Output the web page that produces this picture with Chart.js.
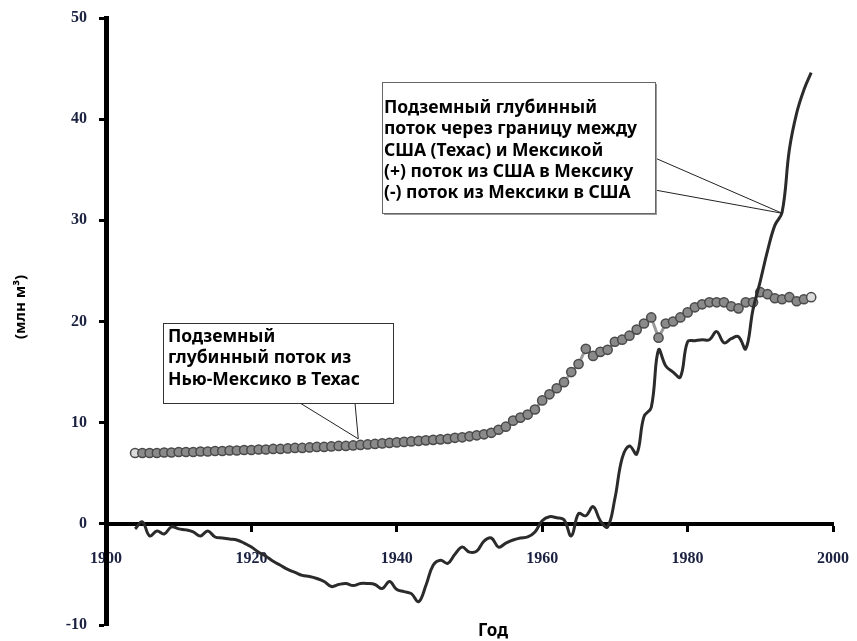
<!DOCTYPE html>
<html>
<head>
<meta charset="utf-8">
<script src="https://cdn.jsdelivr.net/npm/chart.js@4.4.0/dist/chart.umd.min.js"></script>
<style>
  html, body { margin: 0; padding: 0; background: #fff; }
</style>
</head>
<body>
<canvas id="flowChart" width="857" height="641"></canvas>
<script>
// ===== DATA =====
const years = [1904, 1905, 1906, 1907, 1908, 1909, 1910, 1911, 1912, 1913, 1914, 1915, 1916, 1917, 1918, 1919,
  1920, 1921, 1922, 1923, 1924, 1925, 1926, 1927, 1928, 1929, 1930, 1931, 1932, 1933, 1934, 1935, 1936, 1937, 1938, 1939,
  1940, 1941, 1942, 1943, 1944, 1945, 1946, 1947, 1948, 1949, 1950, 1951, 1952, 1953, 1954, 1955, 1956, 1957, 1958, 1959,
  1960, 1961, 1962, 1963, 1964, 1965, 1966, 1967, 1968, 1969, 1970, 1971, 1972, 1973, 1974, 1975, 1976, 1977, 1978, 1979,
  1980, 1981, 1982, 1983, 1984, 1985, 1986, 1987, 1988, 1989, 1990, 1991, 1992, 1993, 1994, 1995, 1996, 1997];

// Подземный глубинный поток из Нью-Мексико в Техас
const nmToTexas = [7.0, 7.0, 7.0, 7.0, 7.05, 7.05, 7.1, 7.1, 7.1, 7.15, 7.15, 7.2, 7.2, 7.25, 7.25, 7.3,
  7.3, 7.35, 7.35, 7.4, 7.4, 7.45, 7.5, 7.5, 7.55, 7.6, 7.6, 7.65, 7.7, 7.7, 7.75, 7.8, 7.85, 7.9, 7.95, 8.0,
  8.05, 8.1, 8.15, 8.2, 8.25, 8.3, 8.35, 8.4, 8.5, 8.55, 8.65, 8.75, 8.85, 9.0, 9.3, 9.6, 10.2, 10.5, 10.8, 11.3,
  12.2, 12.8, 13.4, 14.0, 15.0, 15.8, 17.3, 16.6, 17.0, 17.2, 18.0, 18.2, 18.6, 19.2, 19.8, 20.4, 18.4, 19.8, 20.0, 20.4,
  20.9, 21.4, 21.7, 21.9, 21.9, 21.9, 21.5, 21.3, 21.9, 21.9, 22.9, 22.7, 22.3, 22.2, 22.4, 22.0, 22.2, 22.4];

// Подземный глубинный поток через границу США (Техас) – Мексика
const borderFlow = [-0.5, 0.2, -1.2, -0.7, -1.0, -0.3, -0.5, -0.6, -0.8, -1.2, -0.7, -1.3, -1.4, -1.5, -1.6, -1.9,
  -2.3, -2.8, -3.2, -3.7, -4.1, -4.5, -4.8, -5.1, -5.2, -5.4, -5.7, -6.2, -6.0, -5.9, -6.1, -5.9, -5.9, -6.0, -6.4, -5.7,
  -6.5, -6.7, -6.9, -7.7, -6.1, -4.1, -3.6, -3.9, -3.0, -2.3, -2.8, -2.7, -1.7, -1.4, -2.3, -1.9, -1.6, -1.4, -1.3, -0.8,
  0.3, 0.7, 0.6, 0.4, -1.2, 1.0, 0.8, 1.7, 0.3, -0.3, 2.5, 6.5, 7.7, 6.9, 10.6, 11.5, 17.2, 15.6, 15.0, 14.5,
  18.0, 18.1, 18.2, 18.2, 19.0, 17.9, 18.3, 18.5, 17.3, 21.2, 24.0, 27.0, 29.5, 30.8, 37.0, 40.6, 42.9, 44.6];

const xTicks = [1900, 1920, 1940, 1960, 1980, 2000];
const yTicks = [-10, 0, 10, 20, 30, 40, 50];

const callouts = [
  {
    lines: ['Подземный', 'глубинный поток из', 'Нью-Мексико в Техас'],
    box: { x: 163, y: 323, w: 230, h: 80 }, textX: 168, textY: 337,
    anchor: [1934.7, 8.4], legs: [[300, 403], [355, 403]], shadow: false
  },
  {
    lines: ['Подземный глубинный', 'поток через границу между', 'США (Техас) и Мексикой',
            '(+) поток из США в Мексику', '(-) поток из Мексики в США'],
    box: { x: 382, y: 82, w: 273, h: 131 }, textX: 384, textY: 108,
    anchor: [1993.0, 30.7], legs: [[655, 158], [655, 190]], shadow: true
  }
];

const tickColor = '#1b2140';
const tickFont = { family: '"Liberation Serif", "Times New Roman", serif', size: 16, weight: 'bold' };
const noteFont = 'bold 17.5px "Noto Sans", "Open Sans", sans-serif';

// ===== ANNOTATIONS + AXIS TITLES =====
const notesPlugin = {
  id: 'notes',
  afterDraw(chart) {
    const { ctx, scales: { x, y } } = chart;
    ctx.save();
    callouts.forEach(c => {
      const tx = x.getPixelForValue(c.anchor[0]);
      const ty = y.getPixelForValue(c.anchor[1]);
      ctx.strokeStyle = '#222';
      ctx.lineWidth = 1;
      c.legs.forEach(([lx, ly]) => {
        ctx.beginPath(); ctx.moveTo(lx, ly); ctx.lineTo(tx, ty); ctx.stroke();
      });
      const b = c.box;
      if (c.shadow) {
        ctx.fillStyle = '#9a9a9a';
        ctx.fillRect(b.x + 2, b.y + 2, b.w, b.h);
      }
      ctx.fillStyle = '#fff';
      ctx.fillRect(b.x, b.y, b.w, b.h);
      ctx.strokeStyle = c.shadow ? '#666' : '#333';
      ctx.strokeRect(b.x + 0.5, b.y + 0.5, b.w, b.h);
      ctx.fillStyle = '#000';
      ctx.font = noteFont;
      ctx.textBaseline = 'middle';
      ctx.textAlign = 'left';
      c.lines.forEach((t, i) => ctx.fillText(t, c.textX, c.textY + i * 21.3));
    });

    // axis titles
    ctx.fillStyle = '#000';
    ctx.textAlign = 'center';
    ctx.textBaseline = 'middle';
    ctx.font = 'bold 17px "Noto Sans", "Open Sans", sans-serif';
    ctx.fillText('Год', 493, 631);
    ctx.font = 'bold 15px "Noto Sans", "Open Sans", sans-serif';
    ctx.translate(21, 307);
    ctx.rotate(-Math.PI / 2);
    ctx.fillText('(млн м³)', 0, 0);
    ctx.restore();
  }
};

// ===== CHART =====
new Chart(document.getElementById('flowChart'), {
  type: 'line',
  data: {
    datasets: [
      {
        label: 'Поток через границу США (Техас) и Мексики',
        data: years.map((yr, i) => ({ x: yr, y: borderFlow[i] })),
        borderColor: '#2b2b2b',
        borderWidth: 3,
        pointRadius: 0,
        tension: 0.4,
        fill: false
      },
      {
        label: 'Поток из Нью-Мексико в Техас',
        data: years.map((yr, i) => ({ x: yr, y: nmToTexas[i] })),
        borderColor: '#9a9a9a',
        borderWidth: 3,
        pointRadius: 4.6,
        pointBorderWidth: 1.5,
        pointBorderColor: '#4a4a4a',
        pointBackgroundColor: c => (c.dataIndex === 0 || c.dataIndex === years.length - 1) ? '#dcdcdc' : '#8a8a8a',
        tension: 0,
        fill: false
      }
    ]
  },
  options: {
    responsive: false,
    animation: false,
    layout: { padding: { left: 0, top: 18, right: 24, bottom: 16 } },
    plugins: { legend: { display: false }, tooltip: { enabled: false } },
    scales: {
      x: {
        type: 'linear',
        position: { y: 0 },
        min: 1900, max: 2000,
        afterBuildTicks: s => { s.ticks = xTicks.map(v => ({ value: v })); },
        // axis sits inside the plot, so its labels should not shrink the chart area
        afterFit: s => { s.paddingLeft = 0; s.paddingRight = 0; s.paddingTop = 0; s.paddingBottom = 0; },
        ticks: { color: tickColor, font: tickFont, padding: 19, maxRotation: 0, callback: v => String(v) },
        grid: { drawOnChartArea: false, tickLength: 6, tickWidth: 3, tickColor: '#000' },
        border: { color: '#000', width: 4 }
      },
      y: {
        position: 'left',
        min: -10, max: 50,
        afterBuildTicks: s => { s.ticks = yTicks.map(v => ({ value: v })); },
        afterFit: s => { s.width = 106; s.paddingTop = 0; s.paddingBottom = 0; },
        ticks: { color: tickColor, font: tickFont, padding: 12 },
        grid: { drawOnChartArea: false, tickLength: 7, tickWidth: 3, tickColor: '#000' },
        border: { color: '#000', width: 5 }
      }
    }
  },
  plugins: [notesPlugin]
});
</script>
</body>
</html>
